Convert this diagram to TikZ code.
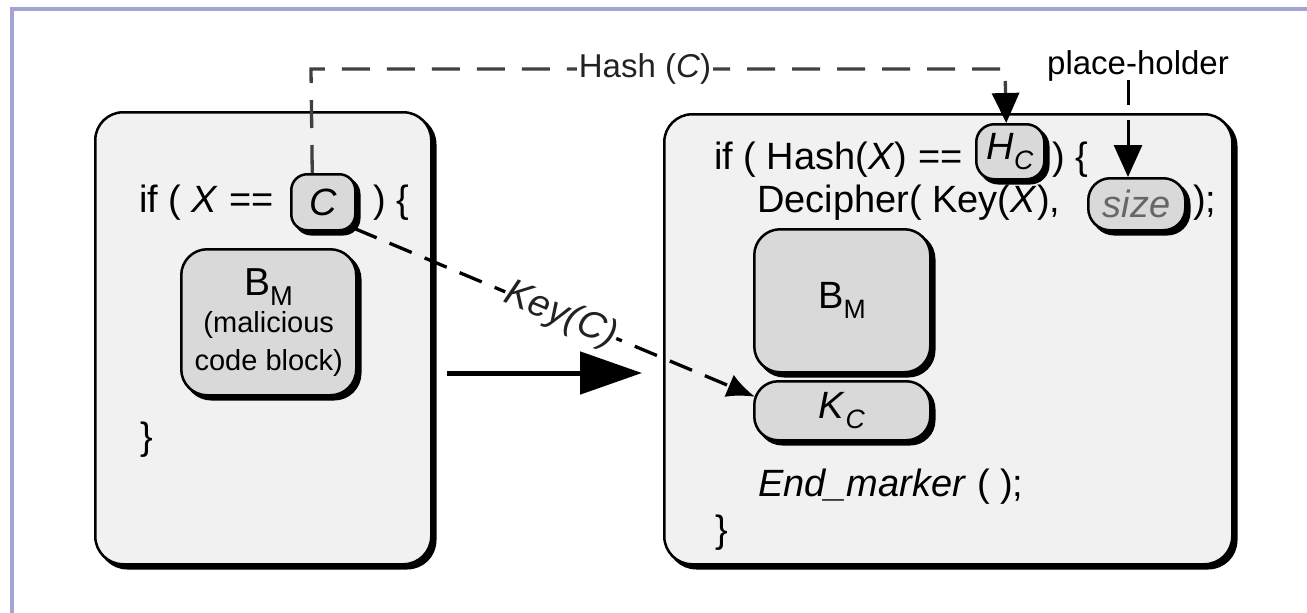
\documentclass[tikz,border=0pt]{standalone}
\usepackage{fontspec}
\setmainfont{Liberation Sans}
\usetikzlibrary{arrows.meta,shadows,calc}
\definecolor{frameblue}{HTML}{A3A3D6}
\definecolor{panelgrey}{HTML}{F1F1F1}
\definecolor{blockgrey}{HTML}{D9D9D9}
\definecolor{dashgrey}{HTML}{404040}
\definecolor{labelgrey}{HTML}{222222}
\definecolor{sizegrey}{HTML}{666666}

\begin{document}
\begin{tikzpicture}[x=1pt,y=-1pt,
  boxshadow/.style={drop shadow={shadow xshift=4pt, shadow yshift=-4pt,
      opacity=1, fill=black, draw=black, line width=2.5pt}},
  panel/.style={draw=black, line width=2.5pt, fill=panelgrey, inner sep=0pt,
      rounded corners=28pt, anchor=north west, boxshadow},
  block/.style={draw=black, line width=2.5pt, fill=blockgrey, inner sep=0pt,
      anchor=north west, boxshadow},
  codefont/.style={font=\fontsize{38}{44}\selectfont},
  code/.style={inner sep=0pt, anchor=west, codefont},
  hashline/.style={draw=dashgrey, line width=3.3pt, dash pattern=on 28pt off 17pt},
  keyline/.style={draw=black, line width=3.3pt, dash pattern=on 24pt off 14pt},
  holderline/.style={draw=black, line width=3pt, dash pattern=on 25pt off 15pt},
]
\useasboundingbox (0,0) rectangle (1307,613);

% frame along the top and left edges
\draw[frameblue, line width=4pt] (12,613) -- (12,9) -- (1307,9);

% the two program panels
\node[panel, minimum width=336pt, minimum height=452pt] (lpanel) at (94,111) {};
\node[panel, minimum width=568pt, minimum height=450pt] (rpanel) at (663,113) {};

% original program
\node[code] (lif) at (139,203) {if ( \textit{X} ==};
\node[block, rounded corners=16pt, minimum width=64pt, minimum height=56pt, codefont]
  (cbox) at (290,173) {\textit{C}};
\node[code] (lbrace) at (373,203) {) \{};
\node[block, rounded corners=26pt, minimum width=175pt, minimum height=146pt,
  align=center, font=\fontsize{29}{38}\selectfont]
  (lbm) at (180,248) {{\fontsize{39}{42}\selectfont B\textsubscript{M}}\\[-1pt](malicious\\code block)};
\node[code] (lclose) at (140,440) {\}};

% transformed program
\node[code] (rif) at (714,160) {if ( Hash(\textit{X}) ==};
\node[block, rounded corners=18pt, minimum width=68pt, minimum height=55pt, codefont]
  (hc) at (975,123) {\textit{H}\textsubscript{\textit{C}}};
\node[code] (rbrace) at (1052,160) {) \{};
\node[code] (decipher) at (757,203) {Decipher( Key(\textit{X}),};
\node[block, rounded corners=22pt, minimum width=97pt, minimum height=52pt, codefont,
  text=sizegrey] (sizebox) at (1087,177) {\textit{size}};
\node[code] (semi) at (1193,203) {);};
\node[block, rounded corners=26pt, minimum width=176pt, minimum height=143pt,
  font=\fontsize{38}{42}\selectfont] (rbm) at (753,228) {B\textsubscript{M}};
\node[block, rounded corners=24pt, minimum width=176pt, minimum height=59pt, codefont]
  (kc) at (753,380) {\textit{K}\textsubscript{\textit{C}}};
\node[code] (endm) at (758,487) {\textit{End\_marker} ( );};
\node[code] (rclose) at (715,533) {\}};

% transformation arrow
\coordinate (tfrom) at (447,373);
\coordinate (tto) at (642,373);
\draw[line width=5pt, -{Triangle[length=62pt, width=42pt]}] (tfrom) -- (tto);

% hash of the constant
\coordinate (hstart) at ($(cbox.north)+(-11,0)$);
\coordinate (hup) at (311,69);
\coordinate (hover) at (1005,69);
\coordinate (hend) at ($(hc.north)+(-4,0)$);
\draw[hashline, -{Triangle[length=30pt, width=27pt, color=black, fill=black]}]
  (hstart) -- (hup) -- (hover) -- (hend);
\node[fill=white, inner sep=2pt, text=labelgrey, font=\fontsize{33}{36}\selectfont]
  (hashlbl) at (645,69) {Hash (\textit{C})};

% key derived from the constant
\coordinate (kstart) at ($(cbox.south east)+(-2,-3)$);
\coordinate (kend) at ($(kc.west)+(2,-14)$);
\draw[keyline, -{Latex[length=28pt, width=24pt]}] (kstart) -- node[pos=0.515, sloped,
  fill=white, inner sep=1pt, text=labelgrey, font=\fontsize{38}{40}\selectfont\itshape]
  (keylbl) {Key(C)} (kend);

% place-holder
\node[inner sep=0pt, font=\fontsize{33}{38}\selectfont] (holder) at (1138,66) {place-holder};
\coordinate (holdtop) at (1128,80);
\draw[holderline, -{Triangle[length=32pt, width=28pt]}] (holdtop) -- (sizebox.north -| holdtop);
\end{tikzpicture}
\end{document}
